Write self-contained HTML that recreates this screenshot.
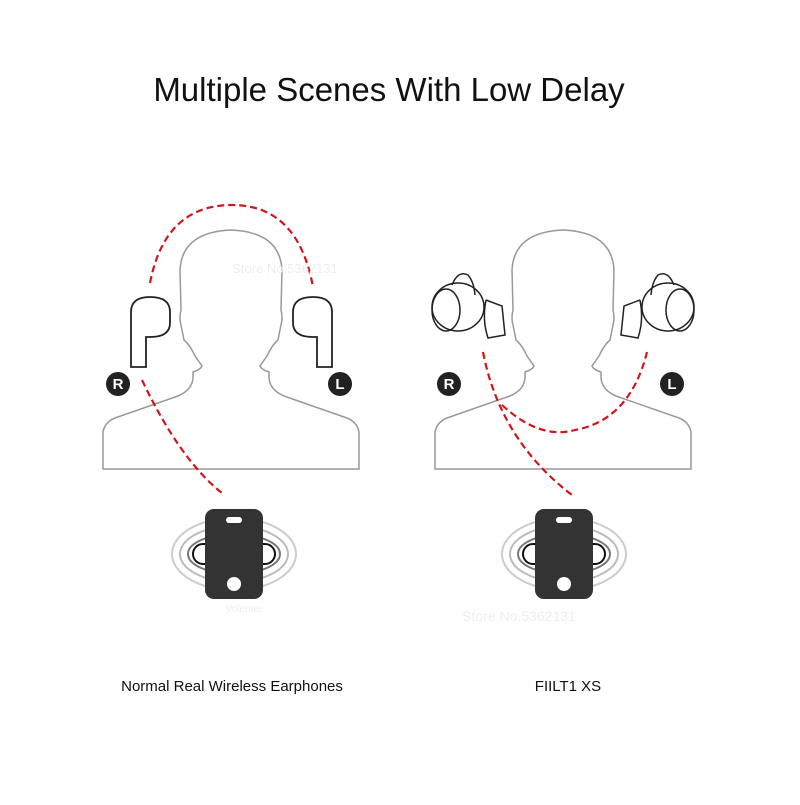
<!DOCTYPE html><html><head><style>body{margin:0;background:#fff}</style></head><body>
<svg width="800" height="800" viewBox="0 0 800 800" xmlns="http://www.w3.org/2000/svg" font-family="Liberation Sans, sans-serif">
<rect width="800" height="800" fill="#fff"/>
<text x="389" y="101" font-size="33" text-anchor="middle" fill="#111">Multiple Scenes With Low Delay</text>
<defs>
<path id="fig" d="M103,469 L103,432 Q105,422 115,418 L178,396 Q192,390 193,378 L193,372 Q200,370 202,366 L195,356 Q190,345 184,340 L181,325 Q179,318 181,310 L180,270 Q182,232 231,230 Q280,232 282,270 L281,310 Q283,318 281,325 L278,340 Q272,345 267,356 L260,366 Q262,370 269,372 L269,378 Q270,390 284,396 L347,418 Q357,422 359,432 L359,469 Z" fill="none" stroke="#999" stroke-width="1.5"/>
<g id="phone">
<ellipse cx="0" cy="0" rx="62" ry="36" fill="none" stroke="#ccc" stroke-width="2"/>
<ellipse cx="0" cy="0" rx="54" ry="28" fill="none" stroke="#bbb" stroke-width="2"/>
<ellipse cx="0" cy="0" rx="46" ry="20" fill="none" stroke="#777" stroke-width="2"/>
<rect x="-41" y="-10" width="82" height="20" rx="10" fill="#fff" stroke="#111" stroke-width="2"/>
<rect x="-29" y="-45" width="58" height="90" rx="9" fill="#333"/>
<rect x="-8" y="-37" width="16" height="6" rx="3" fill="#fff"/>
<circle cx="0" cy="30" r="7" fill="#fff"/>
</g>
</defs>
<use href="#fig"/>
<use href="#fig" transform="translate(332,0)"/>
<use href="#phone" transform="translate(234,554)"/>
<use href="#phone" transform="translate(564,554)"/>
<path d="M131,367 L131,312 Q131,297 150,297 Q170,297 170,312 L170,323 Q170,337 150,337 L146,337 L146,367 Z" fill="none" stroke="#222" stroke-width="1.8"/>
<path d="M332,367 L332,312 Q332,297 313,297 Q293,297 293,312 L293,323 Q293,337 313,337 L317,337 L317,367 Z" fill="none" stroke="#222" stroke-width="1.8"/>
<g fill="none" stroke="#222" stroke-width="1.5">
<ellipse cx="458" cy="307" rx="26" ry="24"/>
<ellipse cx="446" cy="310" rx="14" ry="21"/>
<path d="M452,285 Q458,270 468,275 Q474,282 475,295"/>
<path d="M486,300 L502,306 L505,335 L488,338 Q482,320 486,300"/>
<ellipse cx="668" cy="307" rx="26" ry="24"/>
<ellipse cx="680" cy="310" rx="14" ry="21"/>
<path d="M674,285 Q668,270 658,275 Q652,282 651,295"/>
<path d="M640,300 L624,306 L621,335 L638,338 Q644,320 640,300"/>
</g>
<g font-size="15" font-weight="bold" fill="#fff" text-anchor="middle">
<circle cx="118" cy="384" r="12" fill="#222"/><text x="118" y="389">R</text>
<circle cx="340" cy="384" r="12" fill="#222"/><text x="340" y="389">L</text>
<circle cx="449" cy="384" r="12" fill="#222"/><text x="449" y="389">R</text>
<circle cx="672" cy="384" r="12" fill="#222"/><text x="672" y="389">L</text>
</g>
<g fill="none" stroke="#d0161b" stroke-width="2.2" stroke-dasharray="7,4">
<path d="M150,283 Q165,205 232,205 Q298,205 313,287"/>
<path d="M142,380 Q180,460 222,493"/>
<path d="M483,352 Q500,440 572,495"/>
<path d="M502,405 Q540,440 575,430 Q630,420 647,352"/>
</g>
<text x="285" y="273" font-size="13" fill="#eee" text-anchor="middle">Store No.5362131</text>
<text x="519" y="621" font-size="14" fill="#eee" text-anchor="middle">Store No.5362131</text>
<text x="244" y="612" font-size="10" fill="#eee" text-anchor="middle">Volemer</text>
<text x="232" y="691" font-size="15" fill="#111" text-anchor="middle">Normal Real Wireless Earphones</text>
<text x="568" y="691" font-size="15" fill="#111" text-anchor="middle">FIILT1 XS</text>
</svg>
</body></html>
